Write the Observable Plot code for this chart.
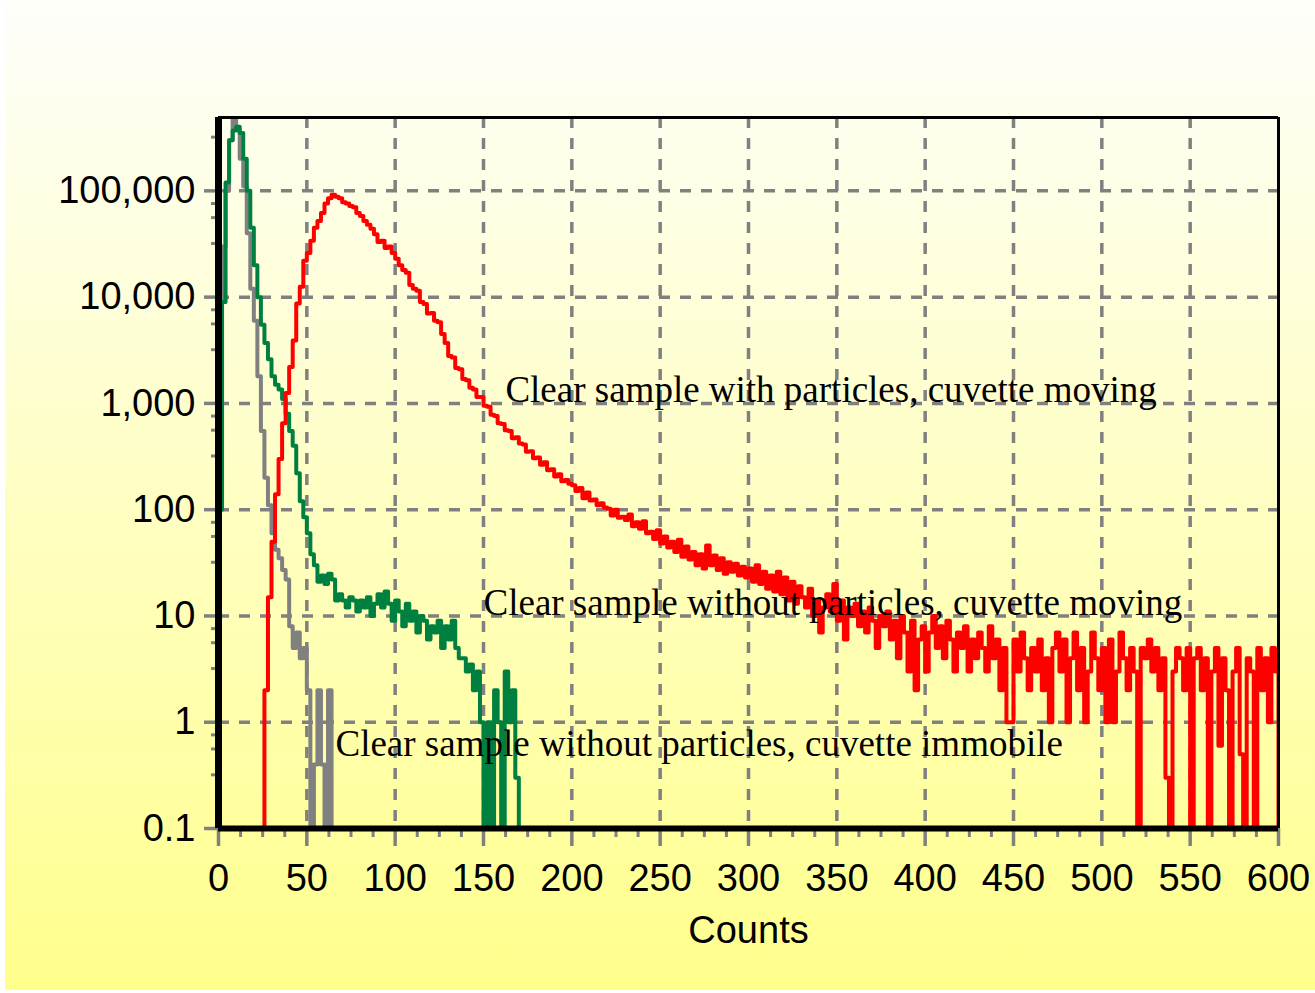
<!DOCTYPE html>
<html><head><meta charset="utf-8">
<script src="https://cdn.jsdelivr.net/npm/d3@7"></script>
<script src="https://cdn.jsdelivr.net/npm/@observablehq/plot@0.6"></script>
<style>
html,body{margin:0;padding:0;background:#fff;width:1315px;height:993px;overflow:hidden;}
#bg{position:absolute;left:5px;top:0;width:1310px;height:990px;background:linear-gradient(to bottom,#fefefb 0%,#ffff8c 100%);}
#chart{position:absolute;left:0;top:0;}
</style></head><body><div id="bg"></div><div id="chart"></div>
<script>
// Histogram bins are 2 counts wide
const binWidth = 2;

// Clear sample without particles, cuvette immobile (gray), bins from 0
const grayStart = 0;
const grayValues = [450, 30000, 100000, 300000, 500000, 380000, 200000, 110000, 40000, 12000,
  6000, 1800, 550, 200, 110, 60, 42, 35, 27, 22,
  8, 5, 7, 4, 5, 2, 0, 0.4, 2, 0.4,
  0, 2, 0];

// Clear sample without particles, cuvette moving (green), bins from 0
const greenStart = 0;
const greenValues = [100, 9000, 120000, 300000, 370000, 400000, 350000, 200000, 100000, 45000,
  20000, 10000, 5500, 3700, 2600, 1800, 1500, 1350, 1100, 800,
  550, 400, 220, 120, 85, 60, 38, 30, 21, 24,
  20, 25, 22, 14, 16, 14, 12, 15, 14, 11,
  14, 12, 15, 10, 13, 16, 12, 17, 13, 9,
  14, 11, 8, 13, 9, 11, 7, 10, 9, 6,
  8, 7, 9, 5, 8, 6, 9, 5, 4, 4,
  3, 3.5, 2, 3, 1, 0, 1, 0, 2, 1,
  0, 3, 1, 2, 0.3, 0];

// Clear sample with particles, cuvette moving (red): main peak, bins from 24
const redPeakStart = 24;
const redPeakValues = [0, 2, 15, 50, 140, 300, 650, 1250, 2200, 3900,
  8700, 12500, 22000, 26000, 34000, 45000, 52000, 62000, 76000, 85000,
  92000, 88000, 85000, 78000, 76000, 72000, 70000, 62000, 58000, 52000,
  48000, 44000, 39000, 33000, 34000, 29000, 30000, 26000, 23000, 20000,
  18000, 17000, 13000, 12000, 11500, 9000, 8600, 7000, 7100, 6000,
  5800, 4500, 3700, 2800, 2700, 2150, 2100, 1700, 1650, 1400,
  1350, 1150, 1150, 950, 930, 780, 760, 650, 640, 560,
  550, 470, 480, 420, 410, 350, 355, 305, 310, 265,
  280, 235, 240, 205, 215, 185, 190, 175, 170, 150,
  160, 128, 145, 122, 125, 110, 115, 105, 102, 88,
  100, 84, 86, 80, 90, 70, 76, 66, 78, 60,
  62, 53, 64, 48, 56, 44, 50, 40, 52, 36,
  45, 34, 40, 30, 38, 28, 46, 30, 37, 27,
  35, 25, 32, 26, 31, 24, 29, 23, 28, 21,
  30, 20, 26, 18, 24, 17, 26, 16, 23, 14,
  21, 13, 19];

// red tail, bins from 330
const redTailStart = 330;
const redTailValues = [15, 12, 18, 10, 14, 7, 12, 16, 11, 20,
  9, 14, 6, 12, 10, 13, 8, 11, 7, 12,
  9, 5, 10, 8, 11, 6, 9, 4, 10, 7,
  3, 9, 2, 6, 8, 3, 7, 10, 5, 8,
  4, 9, 6, 3, 7, 5, 8, 3, 6, 4,
  7, 5, 3, 8, 4, 6, 2, 5, 1, 1,
  6, 3, 7, 4, 2, 5, 3, 6, 2, 4,
  1, 5, 7, 3, 6, 1, 4, 7, 2, 5,
  1, 3, 7, 4, 2, 5, 1, 6, 1, 3,
  7, 4, 2, 5, 3, 0, 5, 4, 6, 3,
  5, 2, 4, 0.3, 0, 3, 5, 4, 2, 5,
  0, 4, 5, 2, 4, 0, 3, 5, 0.6, 4,
  2, 0, 3, 5, 0.5, 0, 4, 3, 0, 5,
  2, 4, 1, 5, 3];
const redEnd = 600;

// axis ticks
const xMajorTicks = [0, 50, 100, 150, 200, 250, 300, 350, 400, 450, 500, 550, 600];
const xMinorTicks = [12.5, 25, 37.5, 62.5, 75, 87.5, 112.5, 125, 137.5, 162.5, 175, 187.5, 212.5, 225, 237.5, 262.5, 275, 287.5, 312.5, 325, 337.5, 362.5, 375, 387.5, 412.5, 425, 437.5, 462.5, 475, 487.5, 512.5, 525, 537.5, 562.5, 575, 587.5];
const xGridTicks = [50, 100, 150, 200, 250, 300, 350, 400, 450, 500, 550];
const yMajorTicks = [0.1, 1, 10, 100, 1000, 10000, 100000];
const yGridTicks = [1, 10, 100, 1000, 10000, 100000];
const yMinorMultipliers = [3.2, 5.6, 7.6];
const yFloor = 0.1;
const yTop = 490000;

const annotationTexts = ["Clear sample with particles, cuvette moving",
  "Clear sample without particles, cuvette moving",
  "Clear sample without particles, cuvette immobile"];
const annotationX = [162.4, 150, 66.2];
const annotationY = [1000, 10, 0.47];

// build tables
function rows(start, values) {
  return values.map((v, i) => ({x: start + i * binWidth, y: v}));
}
const grayRows = rows(grayStart, grayValues);
const greenRows = rows(greenStart, greenValues);
const redRows = rows(redPeakStart, redPeakValues).concat(rows(redTailStart, redTailValues), [{x: redEnd, y: 0}]);
const yMinorTicks = [];
for (let e = -1; e <= 5; e++) for (const m of yMinorMultipliers) {
  const v = m * Math.pow(10, e);
  if (v < yTop) yMinorTicks.push(v);
}
const annotations = annotationTexts.map((t, i) => ({text: t, x: annotationX[i], y: annotationY[i]}));

const Y = d => Math.max(d.y, yFloor);
const gray = "#808080";
const sansFont = "'Liberation Sans', Arial, sans-serif";

const chart = Plot.plot({
  width: 1315, height: 993,
  marginLeft: 218, marginRight: 37, marginTop: 117, marginBottom: 165,
  style: {background: "transparent", fontFamily: sansFont, fontSize: "38px", color: "black"},
  x: {domain: [0, 600], label: null},
  y: {type: "log", domain: [yFloor, yTop], label: null},
  marks: [
    Plot.gridX({ticks: xGridTicks, stroke: gray, strokeOpacity: 1, strokeWidth: 3.5, strokeDasharray: "11,10"}),
    Plot.gridY({ticks: yGridTicks, stroke: gray, strokeOpacity: 1, strokeWidth: 3.5, strokeDasharray: "11,10"}),
    Plot.line(grayRows, {x: "x", y: Y, curve: "step-after", stroke: gray, strokeWidth: 4, clip: true}),
    Plot.line(greenRows, {x: "x", y: Y, curve: "step-after", stroke: "#008040", strokeWidth: 4, clip: true}),
    Plot.line(redRows, {x: "x", y: Y, curve: "step-after", stroke: "#ff0000", strokeWidth: 4, clip: true}),
    Plot.text(annotations, {x: "x", y: "y", text: "text", textAnchor: "start", lineAnchor: "bottom", dy: -1,
      fontFamily: "'Liberation Serif', 'Times New Roman', serif", fontSize: 37, fill: "black"}),
    Plot.axisX({ticks: xMinorTicks, tickSize: 9, stroke: gray, strokeWidth: 3, tickFormat: () => "", label: null}),
    Plot.axisX({ticks: xMajorTicks, tickSize: 18, tickPadding: 18, stroke: gray, strokeWidth: 3.5, tickFormat: d => String(d),
      fontSize: 38, fill: "black", label: null}),
    Plot.axisY({ticks: yMinorTicks, tickSize: 7, stroke: gray, strokeWidth: 3, tickFormat: () => "", label: null}),
    Plot.axisY({ticks: yMajorTicks, tickSize: 14, tickPadding: 9, stroke: gray, strokeWidth: 3.5, tickFormat: d3.format(","),
      fontSize: 38, fill: "black", label: null}),
    Plot.ruleX([600], {stroke: "black", strokeWidth: 3}),
    Plot.ruleY([yTop], {stroke: "black", strokeWidth: 3}),
    Plot.ruleY([yFloor], {stroke: "black", strokeWidth: 6}),
    Plot.ruleX([0], {stroke: "black", strokeWidth: 7}),
    Plot.text(["Counts"], {text: d => d, frameAnchor: "bottom", dy: 114, fontSize: 38, fill: "black"})
  ]
});
document.getElementById("chart").appendChild(chart);
</script>
</body></html>
